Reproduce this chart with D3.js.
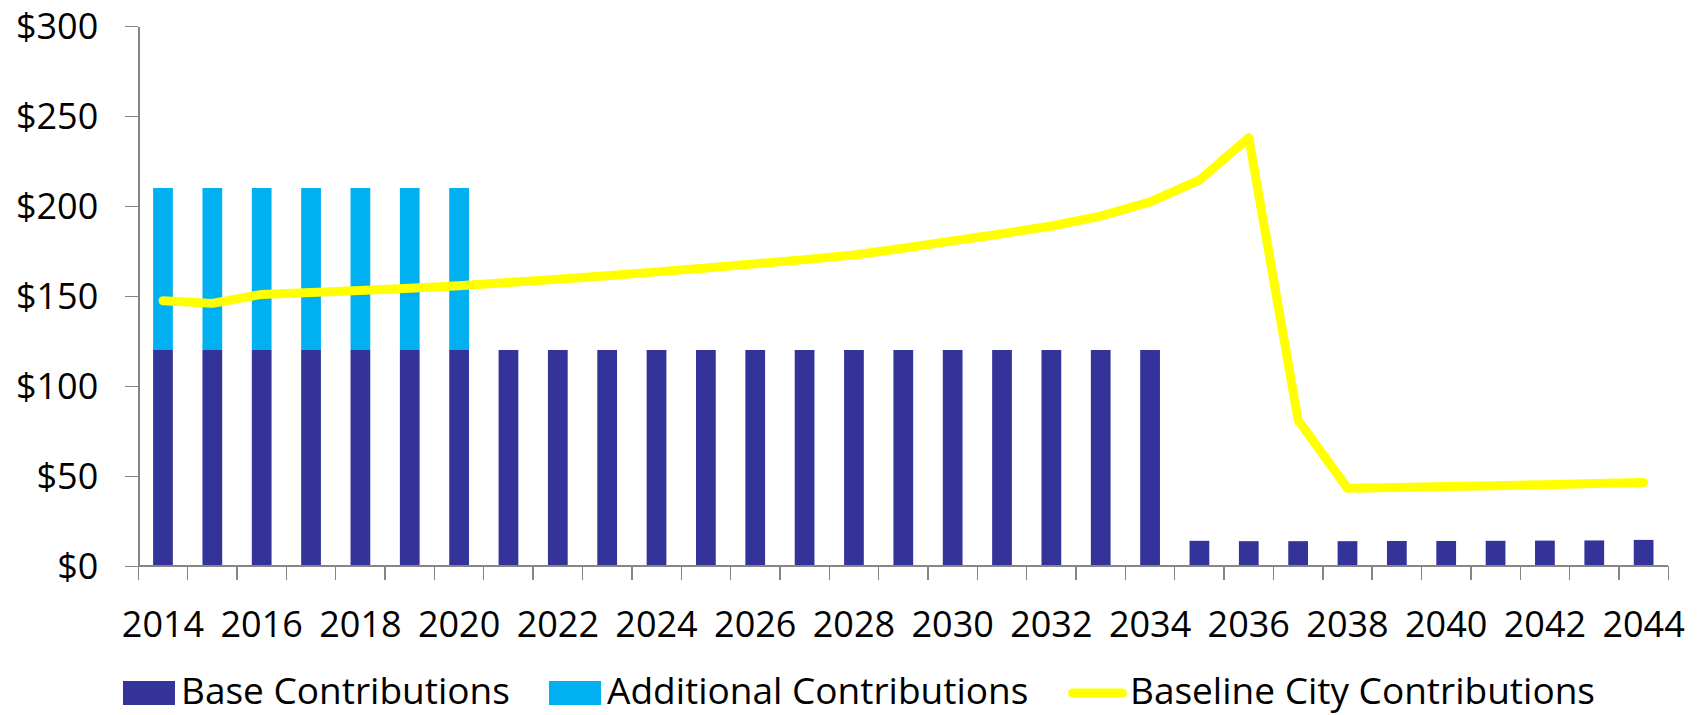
<!doctype html>
<html lang="en">
  <head>
    <meta charset="UTF-8" />
    <title>City Contributions</title>
    <script src="https://d3js.org/d3.v7.min.js"></script>
    <style>
      body {
        margin: 0;
        background: #fff;
      }
      svg text {
        font-family: 'Open Sans', 'Liberation Sans', sans-serif;
        font-size: 36px;
        fill: #000;
      }
      .legend-label {
        font-size: 37px;
      }
      .axis path,
      .axis line,
      .xtick {
        stroke: #868686;
        stroke-width: 1.4;
        shape-rendering: crispEdges;
      }
      .city-line {
        fill: none;
        stroke: #ffff00;
        stroke-width: 9;
        stroke-linejoin: round;
        stroke-linecap: round;
      }
    </style>
  </head>
  <body>
    <svg id="chart" width="1704" height="715"></svg>
    <script>
      // Data
      const years = [
        '2014', '2015', '2016', '2017', '2018', '2019', '2020', '2021', '2022', '2023', '2024',
        '2025', '2026', '2027', '2028', '2029', '2030', '2031', '2032', '2033', '2034', '2035',
        '2036', '2037', '2038', '2039', '2040', '2041', '2042', '2043', '2044',
      ]
      const baseContributions = [
        120, 120, 120, 120, 120, 120, 120, 120, 120, 120, 120, 120, 120, 120, 120, 120, 120, 120,
        120, 120, 120, 14.0, 13.8, 13.8, 13.8, 13.9, 13.9, 14.0, 14.1, 14.2, 14.5,
      ]
      const additionalContributions = [
        90, 90, 90, 90, 90, 90, 90, 0, 0, 0, 0, 0, 0, 0, 0, 0, 0, 0, 0, 0, 0, 0, 0, 0, 0, 0, 0, 0,
        0, 0, 0,
      ]
      const baselineCity = [
        147.4, 145.9, 150.9, 152.0, 153.1, 154.3, 155.7, 157.5, 159.3, 161.2, 163.4, 165.6, 167.9,
        170.2, 172.8, 176.5, 180.6, 184.6, 188.9, 194.4, 202.3, 214.4, 238.0, 81.0, 43.2, 43.6,
        44.1, 44.6, 45.2, 45.8, 46.4,
      ]
      const yTicks = [0, 50, 100, 150, 200, 250, 300]
      const xTickLabels = [
        '2014', '2016', '2018', '2020', '2022', '2024', '2026', '2028', '2030', '2032', '2034',
        '2036', '2038', '2040', '2042', '2044',
      ]
      const seriesNames = ['Base Contributions', 'Additional Contributions', 'Baseline City Contributions']
      const colors = ['#333399', '#00b0f0', '#ffff00']

      const svg = d3.select('#chart')

      // Scales
      const xScale = d3.scaleBand().domain(years).range([138.3, 1668.3])
      const yScale = d3.scaleLinear().domain([0, 300]).range([566, 26])
      const barWidth = xScale.bandwidth() * 0.4
      const barX = (y) => xScale(y) + (xScale.bandwidth() - barWidth) / 2

      // Stacked bars
      const rows = years.map((y, i) => ({
        year: y,
        base: baseContributions[i],
        additional: additionalContributions[i],
      }))
      const stacked = d3.stack().keys(['base', 'additional'])(rows)

      svg
        .append('g')
        .selectAll('g')
        .data(stacked)
        .join('g')
        .attr('fill', (d, i) => colors[i])
        .selectAll('rect')
        .data((d) => d.filter((p) => p[1] > p[0]))
        .join('rect')
        .attr('x', (d) => barX(d.data.year))
        .attr('width', barWidth)
        .attr('y', (d) => yScale(d[1]))
        .attr('height', (d) => yScale(d[0]) - yScale(d[1]))

      // Y axis
      svg
        .append('g')
        .attr('class', 'axis')
        .attr('transform', 'translate(138.3,0)')
        .call(
          d3
            .axisLeft(yScale)
            .tickValues(yTicks)
            .tickSize(13)
            .tickSizeOuter(0)
            .tickPadding(27)
            .tickFormat((d) => '$' + d)
        )
        .call((g) => g.selectAll('text').attr('dy', '0.36em').style('font-size', '36px').style('font-family', null))

      // X axis line, boundary ticks and labels
      const xAxis = svg.append('g')
      xAxis
        .append('line')
        .attr('class', 'xtick')
        .attr('x1', 138.3)
        .attr('x2', xScale.range()[1])
        .attr('y1', yScale(0))
        .attr('y2', yScale(0))
      const boundaries = years.map((y) => xScale(y)).concat([xScale.range()[1]])
      xAxis
        .selectAll('.xtick-mark')
        .data(boundaries)
        .join('line')
        .attr('class', 'xtick')
        .attr('x1', (d) => d)
        .attr('x2', (d) => d)
        .attr('y1', yScale(0))
        .attr('y2', yScale(0) + 14)
      xAxis
        .selectAll('.xlabel')
        .data(xTickLabels)
        .join('text')
        .attr('class', 'xlabel')
        .attr('text-anchor', 'middle')
        .attr('x', (d) => xScale(d) + xScale.bandwidth() / 2)
        .attr('y', 637)
        .text((d) => d)

      // Baseline city contributions line
      const line = d3
        .line()
        .x((d, i) => xScale(years[i]) + xScale.bandwidth() / 2)
        .y((d) => yScale(d))
      svg.append('path').datum(baselineCity).attr('class', 'city-line').attr('d', line)

      // Legend
      const legend = svg.append('g').attr('transform', 'translate(0,-3)')
      const legendX = [123, 549, 1068]
      seriesNames.forEach((name, i) => {
        const g = legend.append('g').attr('transform', `translate(${legendX[i]},0)`)
        if (i < 2) {
          g.append('rect').attr('x', 0).attr('y', 684).attr('width', 52).attr('height', 24).attr('fill', colors[i])
        } else {
          g.append('line')
            .attr('x1', 4.5)
            .attr('x2', 54.5)
            .attr('y1', 696)
            .attr('y2', 696)
            .attr('stroke', colors[i])
            .attr('stroke-width', 9)
            .attr('stroke-linecap', 'round')
        }
        g.append('text')
          .attr('class', 'legend-label')
          .attr('x', i < 2 ? 58 : 62)
          .attr('y', 707)
          .text(name)
      })
    </script>
  </body>
</html>
